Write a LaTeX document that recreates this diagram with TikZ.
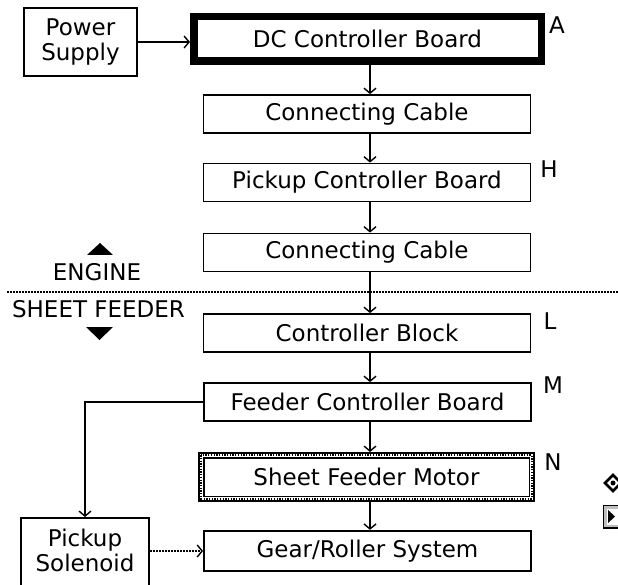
\documentclass[tikz,border=0pt]{standalone}
\usepackage{fontspec}
\setmainfont{DejaVu Sans}
\usetikzlibrary{arrows.meta}
\begin{document}
\begin{tikzpicture}[x=1pt,y=-1pt,
  every node/.style={font=\fontsize{23}{25}\selectfont},
  box/.style={draw, line width=1.8pt, minimum width=327pt, minimum height=38pt, inner sep=0pt},
  conn/.style={line width=1.6pt, -{Straight Barb[length=5pt,width=12pt,line width=1.4pt]}},
  dots/.style={line width=1.6pt, dash pattern=on 1.5pt off 1.5pt},
  lbl/.style={inner sep=0pt}]
\useasboundingbox (0,0) rectangle (618,585);
\clip (0,0) rectangle (618,585);
\coordinate (ax) at (370,0);

% main column
\node[draw, line width=7.5pt, minimum width=347.5pt, minimum height=44.5pt, inner sep=0pt] (dc) at (367.5,39) {DC Controller Board};
\node[box] (cc1) at (367,114) {Connecting Cable};
\node[box] (pcb) at (367,182.5) {Pickup Controller Board};
\node[box] (cc2) at (367,252.5) {Connecting Cable};
\node[box] (cb) at (367,333) {Controller Block};
\node[box] (fcb) at (367.5,402) {Feeder Controller Board};
\node[draw, line width=6.5pt, minimum width=330.5pt, minimum height=43.5pt, inner sep=0pt] (sfm) at (366.5,477) {Sheet Feeder Motor};
\draw[white, line width=3pt] ([shift={(3.25,3.25)}]sfm.north west) rectangle ([shift={(-3.25,-3.25)}]sfm.south east);
\draw[line width=1.6pt, dash pattern=on 1.3pt off 1.4pt] ([shift={(3.25,3.25)}]sfm.north west) rectangle ([shift={(-3.25,-3.25)}]sfm.south east);
\node[box, minimum height=40.5pt] (gear) at (367.5,551) {Gear/Roller System};

% side boxes
\node[draw, line width=1.8pt, minimum width=113.5pt, minimum height=68.5pt, inner sep=0pt, align=center] (power) at (80.5,42) {Power\\Supply};
\node[draw, line width=1.8pt, minimum width=128.5pt, minimum height=80pt, anchor=north] (pickup) at (85,517) {};
\node[align=center, inner sep=0pt] (pickuptext) at (85,550) {Pickup\\Solenoid};

% letters
\node[lbl] (la) at (557,25) {A};
\node[lbl] (lh) at (549,169) {H};
\node[lbl] (ll) at (550,321) {L};
\node[lbl] (lm) at (553,385) {M};
\node[lbl] (ln) at (553,462) {N};

% section divider
\draw[dots] (7,292) -- (618,292);
\fill (87,255) -- (113,255) -- (100,243) -- cycle;
\node[lbl] (engine) at (97,272) {ENGINE};
\node[lbl] (sheetfeeder) at (98.5,309) {SHEET FEEDER};
\fill (86,327) -- (113,327) -- (99.5,340) -- cycle;

% connectors
\draw[conn] (power.east) -- (power.east -| dc.west);
\draw[conn] (dc.south -| ax) -- (cc1.north -| ax);
\draw[conn] (cc1.south -| ax) -- (pcb.north -| ax);
\draw[conn] (pcb.south -| ax) -- (cc2.north -| ax);
\draw[conn] (cc2.south -| ax) -- (cb.north -| ax);
\draw[conn] (cb.south -| ax) -- (fcb.north -| ax);
\draw[conn] (fcb.south -| ax) -- (sfm.north -| ax);
\draw[conn] (sfm.south -| ax) -- (gear.north -| ax);
\draw[conn] (fcb.west) -| (pickup.north);
\draw[conn, dash pattern=on 1.5pt off 1.5pt] (gear.west -| pickup.east) -- (gear.west);

% clipped icons at right edge
\draw[line width=2.5pt] (605,483) -- (613,475) -- (621,483) -- (613,491) -- cycle;
\fill (613,483) circle (2.5pt);
\draw[line width=1.5pt, fill=black!25] (603.5,505.5) rectangle (622,528);
\fill[white] (606.5,508.5) rectangle (622,525);
\fill (608,510) -- (608,523) -- (615,516.5) -- cycle;
\end{tikzpicture}
\end{document}
